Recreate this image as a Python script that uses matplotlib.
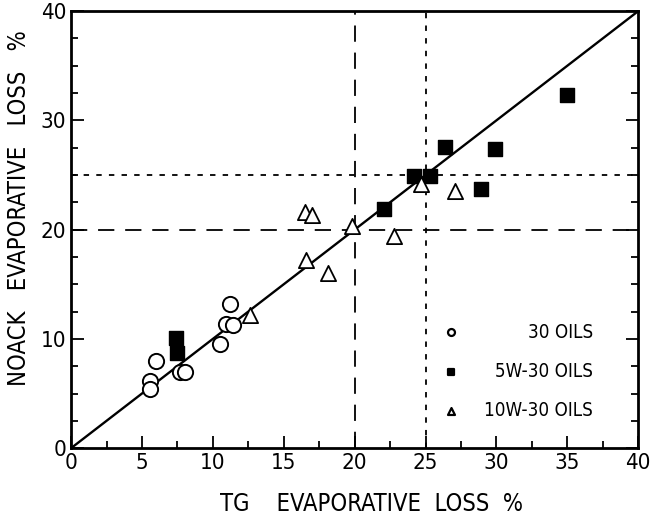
import matplotlib
matplotlib.use('Agg')
import matplotlib.pyplot as plt
from matplotlib.ticker import MultipleLocator

plt.rcParams['font.family'] = ['DejaVu Sans']
plt.rcParams['font.stretch'] = 'condensed'

# TG vs NOACK evaporative loss (%)
oil30_tg = [11.2, 10.9, 11.4, 10.5, 6.0, 5.6, 5.6, 7.7, 8.0]
oil30_noack = [13.2, 11.4, 11.3, 9.5, 8.0, 6.1, 5.4, 7.0, 7.0]

oil5w_tg = [7.4, 7.5, 22.1, 24.2, 25.3, 26.4, 29.9, 28.9, 35.0]
oil5w_noack = [10.1, 8.7, 21.9, 24.9, 24.9, 27.6, 27.4, 23.7, 32.3]

oil10w_tg = [12.6, 16.6, 18.1, 19.8, 16.5, 17.0, 22.8, 24.7, 27.1]
oil10w_noack = [12.2, 17.2, 16.0, 20.3, 21.6, 21.3, 19.4, 24.2, 23.5]

legend_labels = ['30 OILS', '5W-30 OILS', '10W-30 OILS']

fig = plt.figure(figsize=(6.52, 5.26), dpi=100)
ax = fig.add_axes([0.109, 0.148, 0.870, 0.831])

# reference lines
ax.plot([0, 40], [0, 40], color='black', lw=1.7, zorder=1)
ax.axvline(20, color='black', lw=1.3, dashes=(9, 6), zorder=1)
ax.axhline(20, color='black', lw=1.3, dashes=(9, 6), zorder=1)
ax.axvline(25, color='black', lw=1.3, dashes=(3, 4), zorder=1)
ax.axhline(25, color='black', lw=1.3, dashes=(3, 4), zorder=1)

ax.scatter(oil30_tg, oil30_noack, s=120, marker='o', facecolor='white',
           edgecolor='black', linewidth=1.4, zorder=3)
ax.scatter(oil5w_tg, oil5w_noack, s=100, marker='s', facecolor='black',
           edgecolor='black', linewidth=1, zorder=3)
ax.scatter(oil10w_tg, oil10w_noack, s=120, marker='^', facecolor='white',
           edgecolor='black', linewidth=1.3, zorder=3)

# legend drawn by hand: small marker on the left, text right-aligned
key_markers = [('o', 'white'), ('s', 'black'), ('^', 'white')]
for i, (lab, (m, fc)) in enumerate(zip(legend_labels, key_markers)):
    yy = 0.265 - i * 0.09
    ax.scatter([0.67], [yy], s=25, marker=m, facecolor=fc, edgecolor='black',
               linewidth=1.6, transform=ax.transAxes, zorder=3)
    ax.text(0.92, yy, lab, transform=ax.transAxes, ha='right', va='center',
            fontsize=13.5)

ax.set_xlim(0, 40)
ax.set_ylim(0, 40)
ax.xaxis.set_major_locator(MultipleLocator(5))
ax.xaxis.set_minor_locator(MultipleLocator(2.5))
ax.yaxis.set_major_locator(MultipleLocator(10))
ax.yaxis.set_minor_locator(MultipleLocator(2.5))
ax.tick_params(which='both', direction='in', right=True, top=False,
               width=1.3, labelsize=16)
ax.tick_params(which='major', length=9)
ax.tick_params(which='minor', length=5)
for sp in ax.spines.values():
    sp.set_linewidth(2)

ax.set_xlabel('TG    EVAPORATIVE  LOSS  %', fontsize=17)
ax.xaxis.set_label_coords(0.53, -0.10)
ax.set_ylabel('NOACK   EVAPORATIVE   LOSS   %', fontsize=17)
ax.yaxis.set_label_coords(-0.07, 0.55)

fig.savefig('out.png', dpi=100)
